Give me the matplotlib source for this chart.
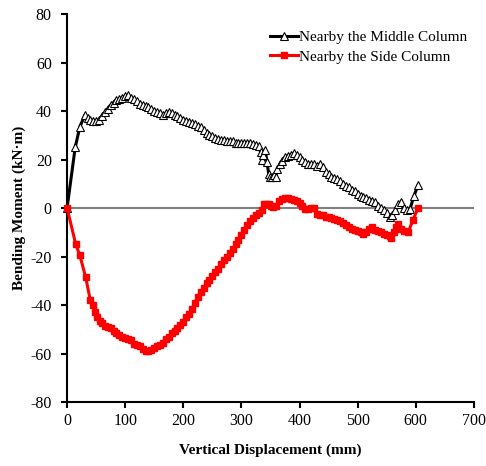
import matplotlib
matplotlib.use("Agg")
import matplotlib.pyplot as plt

plt.rcParams['font.family'] = ['Liberation Serif', 'DejaVu Serif']
plt.rcParams['axes.unicode_minus'] = False

# Nearby the Middle Column
mid_x = [0, 14, 22, 31, 36, 40, 45, 50, 55, 60, 65, 70, 75, 80, 85, 90, 95, 100, 105,
         110, 115, 120, 125, 130, 135, 140, 145, 150, 155, 160, 165, 170, 175, 180, 185,
         190, 195, 200, 205, 210, 215, 220, 225, 230, 235, 240, 245, 250, 255, 260, 265,
         270, 275, 280, 285, 290, 295, 300, 305, 310, 315, 320, 325, 330, 333, 336, 338,
         341, 344, 347, 350, 353, 356, 359, 362, 366, 370, 375, 380, 385, 390, 395, 400,
         405, 410, 415, 420, 425, 430, 435, 440, 445, 450, 455, 460, 465, 470, 475, 480,
         485, 490, 495, 500, 505, 510, 515, 520, 525, 530, 535, 540, 545, 550, 555, 560,
         565, 570, 575, 580, 585, 590, 597, 604]
mid_y = [0, 25, 33.5, 38.5, 37, 36.5, 36, 36, 36.5, 38, 39.5, 41, 42.5, 43.5, 44.5, 45,
         45.5, 46, 46.5, 45.5, 45, 44, 43, 42.5, 42, 41.5, 41, 40, 39.5, 39, 38.5, 39,
         39.5, 39, 38.5, 38, 37, 36.5, 36, 35.5, 35, 34.5, 34, 33.5, 32, 31, 30, 29.5,
         29, 28.5, 28, 28, 27.5, 27.5, 27.5, 27, 27, 27, 27, 27, 27, 26.5, 26, 25.5, 23,
         20, 22, 24, 19, 14, 13, 13, 13.5, 13, 16, 18, 19.5, 21, 21.5, 22, 22.5, 22, 21,
         20, 19, 18, 18, 18, 17.5, 18, 17, 15, 14, 13, 12.5, 12, 11, 10, 9, 8.5, 7.5, 7,
         6, 5, 4.5, 4, 3.5, 3, 2.5, 1, 0, -1, -2, -3.5, -3, -1, 1.5, 2.5, 0, -1, -0.5,
         5, 9.5]

# Nearby the Side Column
side_x = [0, 15, 22, 32, 40, 44, 48, 52, 56, 60, 65, 70, 75, 80, 85, 90, 95, 100, 105,
          110, 115, 120, 125, 130, 135, 140, 145, 150, 155, 160, 165, 170, 175, 180, 185,
          190, 195, 200, 205, 210, 215, 220, 225, 230, 235, 240, 245, 250, 255, 260, 265,
          270, 275, 280, 285, 290, 295, 300, 305, 310, 315, 320, 325, 330, 335, 339, 343,
          347, 351, 355, 360, 365, 370, 375, 380, 385, 390, 395, 400, 405, 410, 415, 420,
          425, 430, 435, 440, 445, 450, 455, 460, 465, 470, 475, 480, 485, 490, 495, 500,
          505, 510, 515, 520, 525, 530, 535, 540, 545, 550, 555, 558, 562, 566, 570, 575,
          580, 587, 595, 604]
side_y = [0, -15, -19.5, -28.5, -38, -40, -43, -45, -46.5, -47.5, -48.5, -49, -49.5,
          -50.5, -51.5, -52.5, -53, -53.5, -54, -54.5, -56, -56.5, -57, -58, -59, -59,
          -58.5, -57.5, -57, -56.5, -55.5, -54, -53, -51.5, -50.5, -49.5, -48, -47, -45,
          -43.5, -41.5, -39, -36.5, -34.5, -33, -31, -29.5, -28, -26.5, -25, -23, -21.5,
          -20, -18.5, -17, -15, -13, -11, -9, -7, -5.5, -4, -3, -2, -1, 1.5, 1.8, 1.5, 1,
          0.5, 1, 3, 3.8, 4, 4, 3.8, 3.2, 2.8, 2, 1, -0.5, -0.5, 0, 0, -2.5, -2.8, -3,
          -3.5, -3.8, -4, -4.5, -5, -5.5, -6, -7, -8, -8.5, -9, -9.5, -10, -10.5, -10,
          -8.5, -8, -9, -9.5, -10, -10.5, -11, -11.5, -12.5, -10, -8, -6.5, -8.5, -9.5,
          -10, -5, 0]

fig = plt.figure(figsize=(4.86, 4.66), dpi=100)
ax = fig.add_axes([0.138, 0.137, 0.837, 0.833])

ax.axhline(0, color='#808080', lw=1.5, zorder=1)
ax.plot(mid_x, mid_y, color='black', lw=2.2, marker='^', markersize=5.5,
        markerfacecolor='white', markeredgecolor='black', markeredgewidth=0.8,
        label='Nearby the Middle Column', zorder=2, clip_on=False)
ax.plot(side_x, side_y, color='red', lw=2.2, marker='s', markersize=5,
        markerfacecolor='red', markeredgecolor='red',
        label='Nearby the Side Column', zorder=3, clip_on=False)

ax.set_xlim(0, 700)
ax.set_ylim(-80, 80)
ax.set_xticks(range(0, 701, 100))
ax.set_yticks(range(-80, 81, 20))
ax.spines['top'].set_visible(False)
ax.spines['right'].set_visible(False)
ax.spines['left'].set_linewidth(1.5)
ax.spines['bottom'].set_linewidth(1.5)
ax.tick_params(direction='out', length=4, width=1.5, labelsize=11.5)
ax.tick_params(axis='y', pad=7)

ax.set_xlabel('Vertical Displacement (mm)', fontsize=11, fontweight='bold', labelpad=11)
ax.set_ylabel('Bending Moment (kN·m)', fontsize=11, fontweight='bold', labelpad=3)

ax.legend(loc='upper right', bbox_to_anchor=(1.0, 0.974), frameon=False, fontsize=11,
          handlelength=1.8, handletextpad=0.1, labelspacing=0.4, borderaxespad=0.0)

fig.savefig('out.png', dpi=100)
